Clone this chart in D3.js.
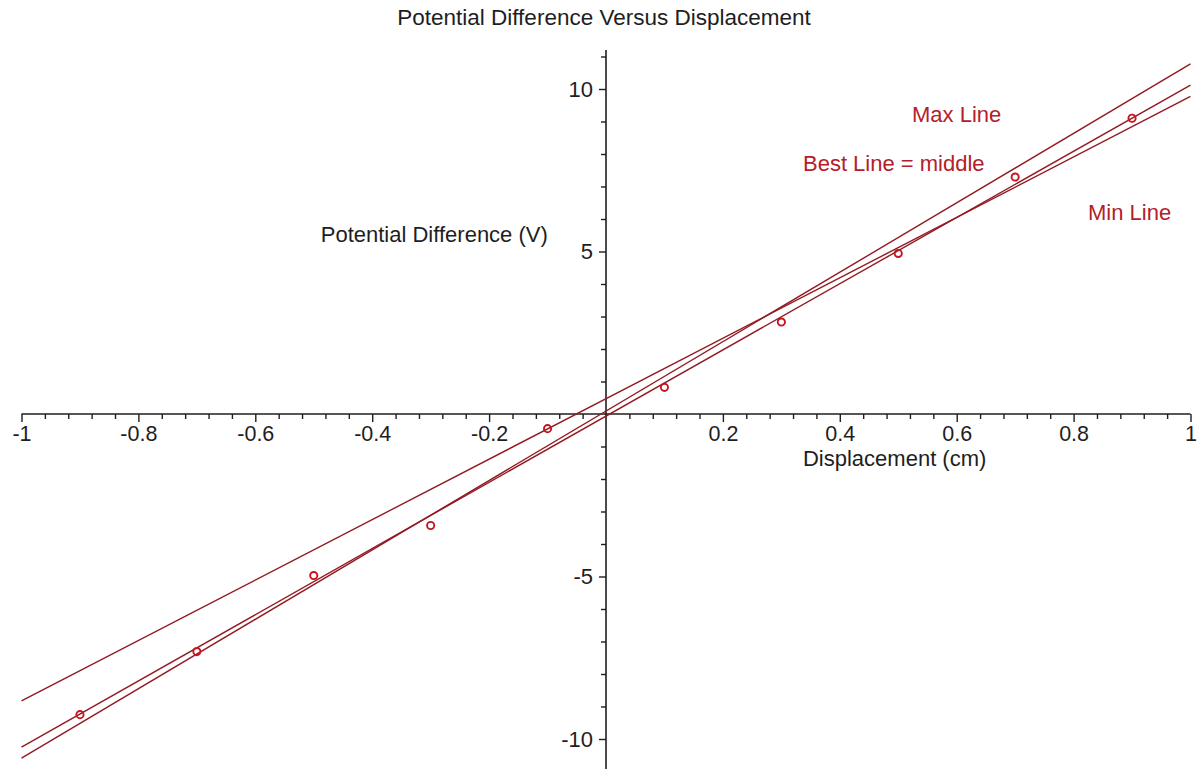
<!DOCTYPE html>
<html>
<head>
<meta charset="utf-8">
<script src="https://cdn.jsdelivr.net/npm/d3@7"></script>
<style>
  html, body { margin: 0; padding: 0; background: #fff; }
  svg { display: block; }
  text { font-family: "Liberation Sans", Arial, sans-serif; }
</style>
</head>
<body>
<svg id="chart" width="1197" height="769"></svg>
<script>
// ---- data ----
const displacement = [-0.9, -0.7, -0.5, -0.3, -0.1, 0.1, 0.3, 0.5, 0.7, 0.9];
const potential = [-9.25, -7.31, -4.97, -3.43, -0.45, 0.82, 2.83, 4.94, 7.29, 9.10];
const lineXs = [-1, 1];
const maxLineYs = [-10.59, 10.77];
const bestLineYs = [-10.25, 10.12];
const minLineYs = [-8.83, 9.77];
const xTickLabels = [-1, -0.8, -0.6, -0.4, -0.2, 0.2, 0.4, 0.6, 0.8, 1];
const yTickLabels = [-10, -5, 5, 10];
const xMinorTicks = d3.range(-25, 26).map(i => i * 0.04).filter(v => Math.abs(Math.round(v * 5) - v * 5) > 1e-6);
const yMinorTicks = d3.range(-11, 12).filter(v => v % 5 !== 0);
const annotations = [
  { text: "Max Line", x: 0.5235, y: 8.98 },
  { text: "Best Line = middle", x: 0.337, y: 7.48 },
  { text: "Min Line", x: 0.8246, y: 5.97 }
];

const svg = d3.select("#chart");
const x = d3.scaleLinear().domain([-1, 1]).range([21.5, 1190.5]);
const y = d3.scaleLinear().domain([-10, 10]).range([739, 89]);

const axisColor = "#1e1e1e";
const lineColor = "#921a22";
const textRed = "#b3202a";
const pointColor = "#c8141e";

// title
svg.append("text")
  .attr("x", 604).attr("y", 25)
  .attr("text-anchor", "middle")
  .attr("font-size", 22.5)
  .attr("fill", axisColor)
  .text("Potential Difference Versus Displacement");

// x axis (major)
const xAxisG = svg.append("g").attr("transform", `translate(0,${y(0)})`);
xAxisG.call(d3.axisBottom(x).tickValues(xTickLabels).tickSize(8).tickPadding(4)
  .tickFormat(d => String(d)));
xAxisG.select(".domain").remove();
xAxisG.selectAll("line").attr("stroke", axisColor).attr("stroke-width", 1.4);
xAxisG.selectAll("text").attr("font-size", 21.5).attr("fill", axisColor)
  .attr("font-family", "'Liberation Sans', Arial, sans-serif");

// x axis minor
const xMinorG = svg.append("g").attr("transform", `translate(0,${y(0)})`);
xMinorG.call(d3.axisBottom(x).tickValues(xMinorTicks).tickSize(5).tickFormat(""));
xMinorG.select(".domain").remove();
xMinorG.selectAll("line").attr("stroke", axisColor).attr("stroke-width", 1.4);

// y axis major
const yAxisG = svg.append("g").attr("transform", `translate(${x(0)},0)`);
yAxisG.call(d3.axisLeft(y).tickValues(yTickLabels).tickSize(7).tickPadding(6)
  .tickFormat(d => String(d)));
yAxisG.select(".domain").remove();
yAxisG.selectAll("line").attr("stroke", axisColor).attr("stroke-width", 1.4);
yAxisG.selectAll("text").attr("font-size", 22).attr("fill", axisColor)
  .attr("font-family", "'Liberation Sans', Arial, sans-serif");

// y axis minor
const yMinorG = svg.append("g").attr("transform", `translate(${x(0)},0)`);
yMinorG.call(d3.axisLeft(y).tickValues(yMinorTicks).tickSize(5).tickFormat(""));
yMinorG.select(".domain").remove();
yMinorG.selectAll("line").attr("stroke", axisColor).attr("stroke-width", 1.4);

// axis lines
svg.append("line")
  .attr("x1", x(-1)).attr("x2", x(1))
  .attr("y1", y(0)).attr("y2", y(0))
  .attr("stroke", axisColor).attr("stroke-width", 1.6);
svg.append("line")
  .attr("x1", x(0)).attr("x2", x(0))
  .attr("y1", y(11.2)).attr("y2", y(-11.1))
  .attr("stroke", axisColor).attr("stroke-width", 1.6);

// axis titles
svg.append("text")
  .attr("x", x(-0.488)).attr("y", y(5.29))
  .attr("font-size", 22).attr("fill", axisColor)
  .text("Potential Difference (V)");
svg.append("text")
  .attr("x", x(0.337)).attr("y", y(-1.6))
  .attr("font-size", 22).attr("fill", axisColor)
  .text("Displacement (cm)");

// lines
const lineGen = d3.line().x(d => x(d[0])).y(d => y(d[1]));
[maxLineYs, bestLineYs, minLineYs].forEach(ys => {
  svg.append("path")
    .datum(lineXs.map((xv, i) => [xv, ys[i]]))
    .attr("d", lineGen)
    .attr("fill", "none")
    .attr("stroke", lineColor)
    .attr("stroke-width", 1.4);
});

// points
svg.append("g").selectAll("circle")
  .data(displacement.map((d, i) => [d, potential[i]]))
  .join("circle")
  .attr("cx", d => x(d[0]))
  .attr("cy", d => y(d[1]))
  .attr("r", 3.6)
  .attr("fill", "none")
  .attr("stroke", pointColor)
  .attr("stroke-width", 1.9);

// annotations
svg.append("g").selectAll("text")
  .data(annotations)
  .join("text")
  .attr("x", d => x(d.x))
  .attr("y", d => y(d.y))
  .attr("font-size", 22)
  .attr("fill", textRed)
  .text(d => d.text);
</script>
</body>
</html>
